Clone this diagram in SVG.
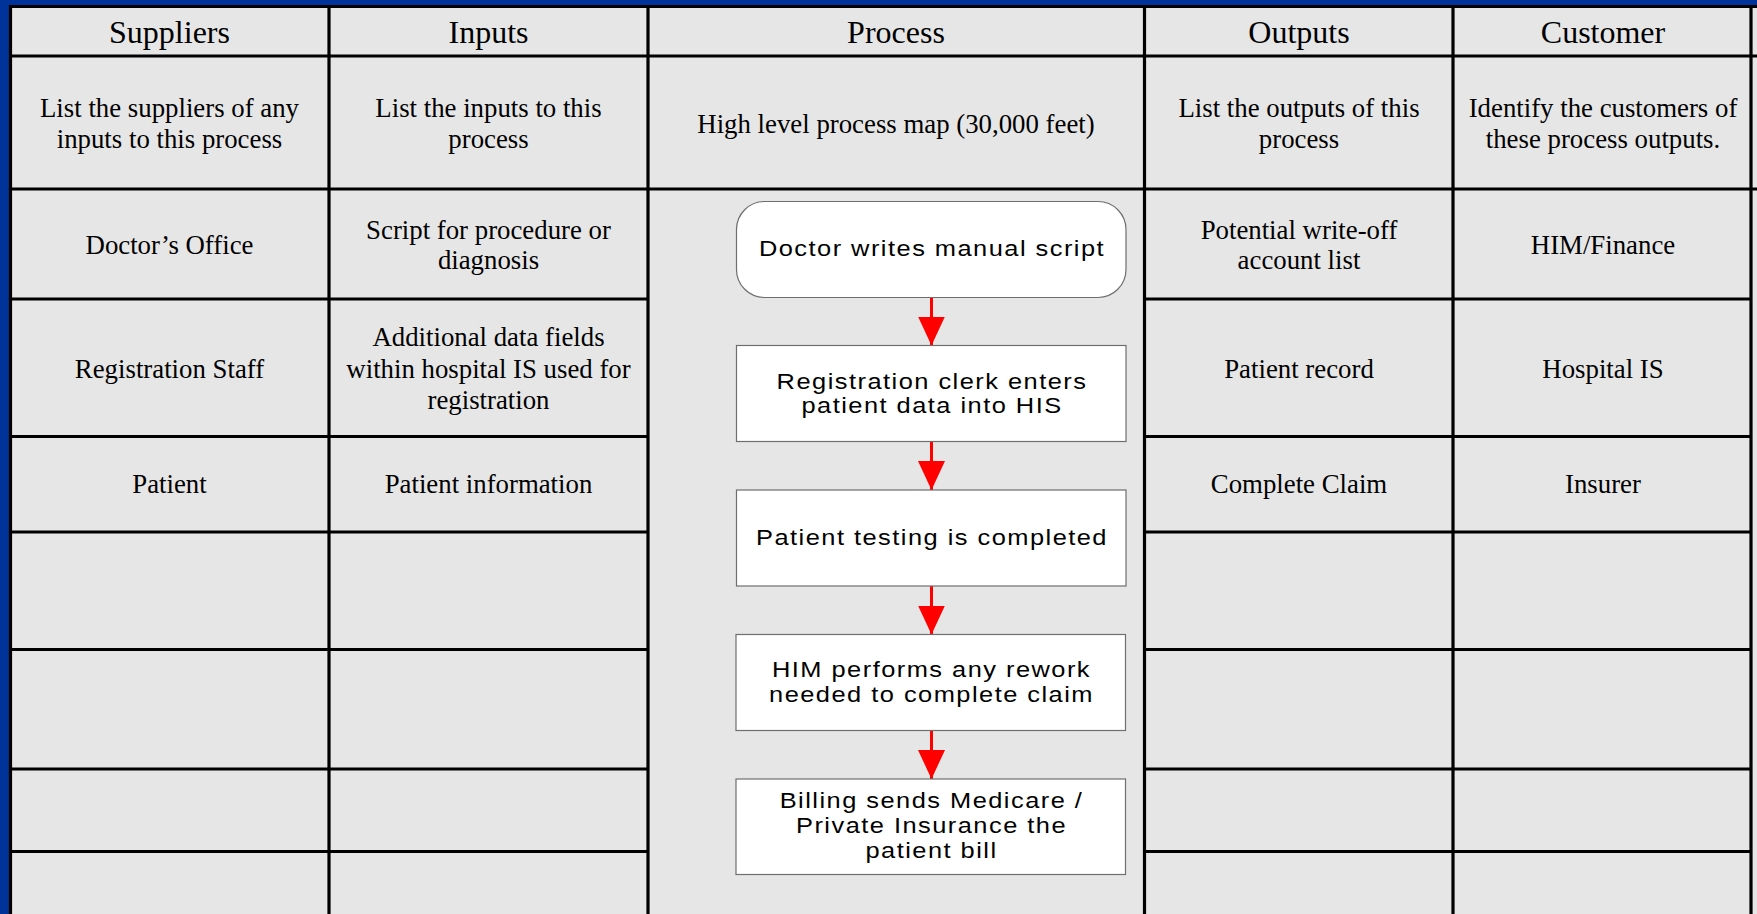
<svg xmlns="http://www.w3.org/2000/svg" width="1757" height="914" viewBox="0 0 1757 914">
<style>
.grid{stroke:#000;stroke-width:3.2;fill:none}
.hd{font-family:"Liberation Serif","Times New Roman",serif;font-size:32px;fill:#000;text-anchor:middle}
.tx{font-family:"Liberation Serif","Times New Roman",serif;font-size:26.8px;fill:#000;text-anchor:middle}
.box{fill:#fff;stroke:#6e6e6e;stroke-width:1.2}
.bt{font-family:"Liberation Sans",Arial,sans-serif;font-size:22.5px;letter-spacing:1.3px;fill:#000;text-anchor:middle}
.conn{stroke:#ff0000;stroke-width:3;fill:none;marker-end:url(#ah)}
</style>
<defs>
<marker id="ah" viewBox="0 0 29 27" refX="29" refY="13.5" markerWidth="29" markerHeight="27" markerUnits="userSpaceOnUse" orient="auto">
<path d="M0,0 L29,13.5 L0,27 Z" fill="#ff0000"/>
</marker>
</defs>
<rect x="0" y="0" width="1757" height="914" fill="#003399"/>
<rect x="9" y="5" width="1748" height="909" fill="#e6e6e6"/>
<g id="table">
<path class="grid" d="M10.5,6.5 H1757 M10.5,5 V914 M1751,5 V914 M329,5 V914 M648,5 V914 M1144.5,5 V914 M1453,5 V914 M9,56 H1757 M9,189 H1757"/>
<path class="grid" d="M9,299 H648 M9,436.5 H648 M9,532 H648 M9,649.5 H648 M9,769 H648 M9,851.5 H648"/>
<path class="grid" d="M1144.5,299 H1751 M1144.5,436.5 H1751 M1144.5,532 H1751 M1144.5,649.5 H1751 M1144.5,769 H1751 M1144.5,851.5 H1751"/>
</g>
<g id="headers">
<text class="hd" x="169.5" y="43">Suppliers</text>
<text class="hd" x="488.5" y="43">Inputs</text>
<text class="hd" x="896" y="43">Process</text>
<text class="hd" x="1299" y="43">Outputs</text>
<text class="hd" x="1603" y="43">Customer</text>
</g>
<g id="descriptions">
<text class="tx" x="169.5" y="117">List the suppliers of any</text>
<text class="tx" x="169.5" y="148">inputs to this process</text>
<text class="tx" x="488.5" y="117">List the inputs to this</text>
<text class="tx" x="488.5" y="148">process</text>
<text class="tx" x="896" y="133">High level process map (30,000 feet)</text>
<text class="tx" x="1299" y="117">List the outputs of this</text>
<text class="tx" x="1299" y="148">process</text>
<text class="tx" x="1603" y="117">Identify the customers of</text>
<text class="tx" x="1603" y="148">these process outputs.</text>
</g>
<g id="suppliers">
<text class="tx" x="169.5" y="254">Doctor’s Office</text>
<text class="tx" x="169.5" y="378">Registration Staff</text>
<text class="tx" x="169.5" y="493">Patient</text>
</g>
<g id="inputs">
<text class="tx" x="488.5" y="239">Script for procedure or</text>
<text class="tx" x="488.5" y="269">diagnosis</text>
<text class="tx" x="488.5" y="346">Additional data fields</text>
<text class="tx" x="488.5" y="378">within hospital IS used for</text>
<text class="tx" x="488.5" y="409">registration</text>
<text class="tx" x="488.5" y="493">Patient information</text>
</g>
<g id="outputs">
<text class="tx" x="1299" y="239">Potential write-off</text>
<text class="tx" x="1299" y="269">account list</text>
<text class="tx" x="1299" y="378">Patient record</text>
<text class="tx" x="1299" y="493">Complete Claim</text>
</g>
<g id="customers">
<text class="tx" x="1603" y="254">HIM/Finance</text>
<text class="tx" x="1603" y="378">Hospital IS</text>
<text class="tx" x="1603" y="493">Insurer</text>
</g>
<g id="connectors">
<line class="conn" x1="931.5" y1="297.5" x2="931.5" y2="345.5"/>
<line class="conn" x1="931.5" y1="442" x2="931.5" y2="490"/>
<line class="conn" x1="931.5" y1="586" x2="931.5" y2="634.5"/>
<line class="conn" x1="931.5" y1="731" x2="931.5" y2="779"/>
</g>
<g id="n1">
<rect class="box" x="736.5" y="201.5" width="389.5" height="96" rx="28" ry="28"/>
<text class="bt" transform="translate(932,255.5) scale(1.13,1)">Doctor writes manual script</text>
</g>
<g id="n2">
<rect class="box" x="736.5" y="345.5" width="389.5" height="96"/>
<text class="bt" transform="translate(932,388.5) scale(1.13,1)">Registration clerk enters</text>
<text class="bt" transform="translate(932,412.5) scale(1.13,1)">patient data into HIS</text>
</g>
<g id="n3">
<rect class="box" x="736.5" y="490" width="389.5" height="96"/>
<text class="bt" transform="translate(932,544.5) scale(1.13,1)">Patient testing is completed</text>
</g>
<g id="n4">
<rect class="box" x="736" y="634.5" width="389.5" height="96"/>
<text class="bt" transform="translate(931.5,677) scale(1.13,1)">HIM performs any rework</text>
<text class="bt" transform="translate(931.5,701.5) scale(1.13,1)">needed to complete claim</text>
</g>
<g id="n5">
<rect class="box" x="736" y="779" width="389.5" height="95.5"/>
<text class="bt" transform="translate(931.5,807.5) scale(1.13,1)">Billing sends Medicare /</text>
<text class="bt" transform="translate(931.5,833) scale(1.13,1)">Private Insurance the</text>
<text class="bt" transform="translate(931.5,857.5) scale(1.13,1)">patient bill</text>
</g>
</svg>
